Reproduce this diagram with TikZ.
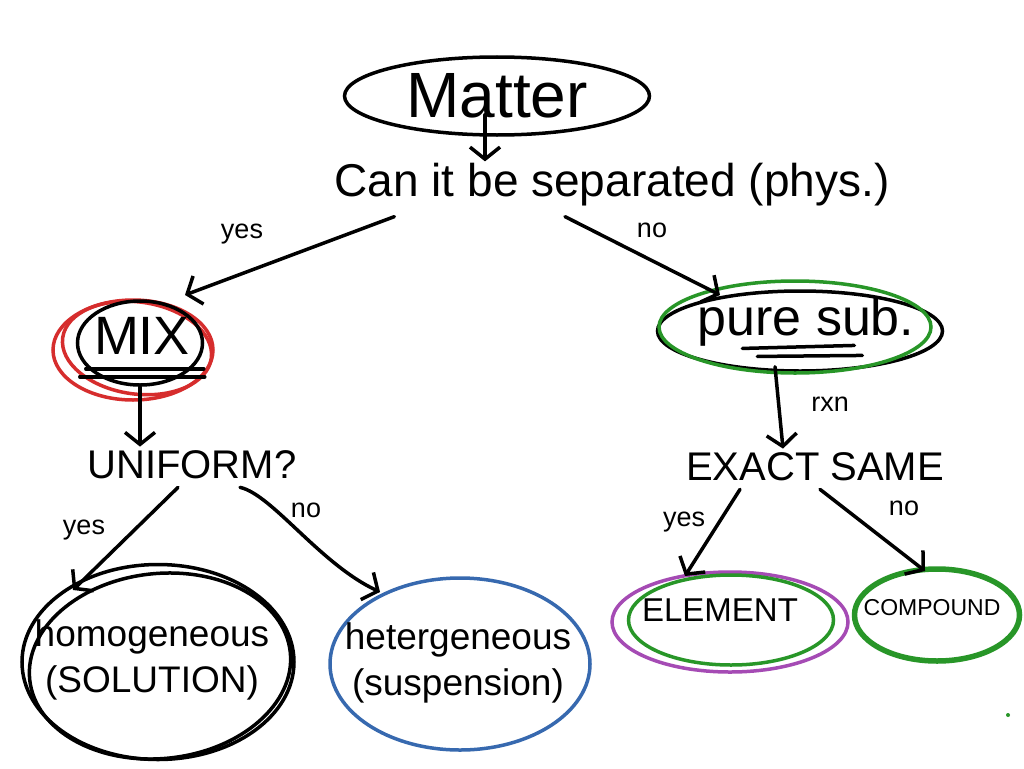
\documentclass[tikz,border=0pt]{standalone}
\usepackage{fontspec}
\setmainfont{Liberation Sans}
\usetikzlibrary{shapes.geometric,arrows.meta,calc}
\definecolor{inkred}{RGB}{214,45,45}
\definecolor{inkgreen}{RGB}{40,150,40}
\definecolor{inkblue}{RGB}{55,105,175}
\definecolor{inkpurple}{RGB}{165,75,180}
\begin{document}
\begin{tikzpicture}[x=1pt,y=-1pt,
  ink/.style={line width=3.5pt, line cap=round, line join=round},
  arr/.style={ink,-{Straight Barb[length=12pt,width=30pt]}},
  ring/.style={ellipse, draw, line width=3.5pt, inner sep=0pt},
  lbl/.style={inner sep=0pt, font=\fontsize{27}{27}\selectfont},
  big/.style={inner sep=0pt, font=\fontsize{40}{44}\selectfont},
  mid/.style={inner sep=0pt, font=\fontsize{37}{46}\selectfont},
]
\useasboundingbox[fill=white] (0,0) rectangle (1024,768);

% top
\node[ring, minimum width=305pt, minimum height=78pt, font=\fontsize{64}{64}\selectfont] (matter) at (497,96) {Matter};
\node[inner sep=0pt, font=\fontsize{46}{50}\selectfont] (q1) at (612,185) {Can it be separated (phys.)};
\draw[arr] ($(matter.south)+(-12,-22)$) -- ($(q1.north)+(-127,-2)$);

% MIX
\node[ring, draw=inkred, minimum width=160pt, minimum height=100pt] (mixr) at (133,350) {};
\node[ring, draw=inkred, minimum width=150pt, minimum height=92pt, rotate=-8] (mixr2) at (137,348) {};
\node[ring, minimum width=125pt, minimum height=84pt] (mixb) at (140,343) {};
\node[inner sep=0pt, font=\fontsize{54}{54}\selectfont] (mix) at (142,336) {MIX};
\draw[ink] ($(mix.south west)+(-8,14)$) -- ++(118,0);
\draw[ink] ($(mix.south west)+(-14,22)$) -- ++(125,0);

% pure sub
\node[ring, minimum width=285pt, minimum height=80pt] (pureb) at (800,331) {};
\node[ring, draw=inkgreen, minimum width=272pt, minimum height=92pt] (pureg) at (795,327) {};
\node[inner sep=0pt, font=\fontsize{52}{52}\selectfont] (pure) at (806,322) {pure sub.};
\draw[ink] ($(pure.south west)+(45,2)$) -- ++(112,-3);
\draw[ink] ($(pure.south west)+(60,10)$) -- ++(105,-1);

% yes / no from question
\draw[arr] ($(q1.south west)+(60,10)$) -- ($(mixr.center)+(52,-55)$);
\node[lbl] (yes1) at (242,234) {yes};
\draw[arr] ($(q1.south)+(-47,10)$) -- ($(pureg.center)+(-75,-32)$);
\node[lbl] (no1) at (652,230) {no};

% uniform
\node[big] (unif) at (192,465) {UNIFORM?};
\draw[arr] ($(mixr.south)+(7,-15)$) -- ($(unif.north)+(-52,-4)$);

% exact same
\node[big] (same) at (815,467) {EXACT SAME};
\draw[arr] ($(pureg.south)+(-20,-8)$) -- ($(same.north)+(-32,-4)$);
\node[lbl] (rxn) at (830,404) {rxn};

% homogeneous
\node[ring, minimum width=272pt, minimum height=195pt] (homo) at (158,662) {};
\node[ring, minimum width=262pt, minimum height=185pt, rotate=6] (homo2) at (160,666) {};
\node[mid, align=center] (homot) at (152,660) {homogeneous\\(SOLUTION)};
\draw[arr] ($(unif.south)+(-14,8)$) -- ($(homo.center)+(-85,-72)$);
\node[lbl] (yes2) at (84,530) {yes};

% heterogeneous
\node[ring, draw=inkblue, minimum width=260pt, minimum height=172pt] (hetero) at (460,664) {};
\node[mid, align=center] (heterot) at (458,663) {hetergeneous\\(suspension)};
\draw[arr] ($(unif.south)+(48,8)$) .. controls ($(unif.south)+(80,15)$) and ($(hetero.center)+(-140,-100)$) .. ($(hetero.center)+(-80,-72)$);
\node[lbl] (no2) at (306,510) {no};

% element
\node[ring, draw=inkpurple, minimum width=236pt, minimum height=100pt] (elemp) at (730,622) {};
\node[ring, draw=inkgreen, minimum width=205pt, minimum height=90pt] (elemg) at (731,620) {};
\node[inner sep=0pt, font=\fontsize{33}{33}\selectfont] (elem) at (720,610) {ELEMENT};
\draw[arr] ($(same.south)+(-75,8)$) -- ($(elemg.center)+(-46,-44)$);
\node[lbl] (yes3) at (684,522) {yes};

% compound
\node[ring, draw=inkgreen, line width=5.5pt, minimum width=165pt, minimum height=92pt] (comp) at (937,615) {};
\node[inner sep=0pt, font=\fontsize{23}{23}\selectfont] (compt) at (932,608) {COMPOUND};
\draw[arr] ($(same.south)+(5,8)$) -- ($(comp.center)+(-12,-44)$);
\node[lbl] (no3) at (904,508) {no};

% stray dot
\fill[inkgreen] (1008,715) circle (2pt);
\end{tikzpicture}
\end{document}
